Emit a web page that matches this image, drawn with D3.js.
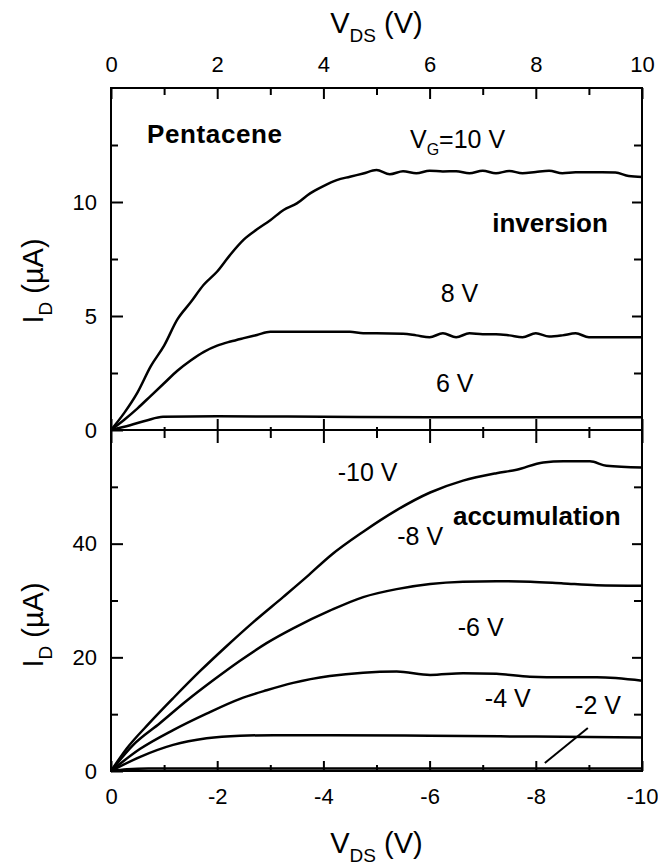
<!DOCTYPE html>
<html><head><meta charset="utf-8">
<script src="https://cdn.jsdelivr.net/npm/d3@7"></script>
<style>
body{margin:0;background:#fff;}
svg{display:block;}
text{font-family:"Liberation Sans",Arial,Helvetica,sans-serif;fill:#000;}
</style></head><body>
<svg id="c" width="658" height="866"></svg>
<script>
// ---- tick values ----
const topXTicks = [0, 2, 4, 6, 8, 10];
const topXMinor = [1, 3, 5, 7, 9];
const bottomXTicks = [0, -2, -4, -6, -8, -10];
const bottomXMinor = [-1, -3, -5, -7, -9];
const invYTicks = [0, 5, 10];
const invYMinor = [2.5, 7.5, 12.5];
const accYTicks = [0, 20, 40];
const accYMinor = [10, 30, 50];

// ---- inversion (top panel): [V_DS (V), I_D (uA)] ----
const inversionVG = ["10 V", "8 V", "6 V"];
const inv10 = [[0,0],[0.25,0.75],[0.5,1.65],[0.75,2.8],[1.0,3.7],[1.25,4.85],[1.5,5.6],[1.75,6.38],[2.0,6.95],[2.25,7.7],[2.5,8.35],[2.75,8.8],[3.0,9.2],[3.25,9.65],[3.5,9.94],[3.75,10.38],[4.0,10.7],[4.25,10.96],[4.5,11.11],[4.75,11.25],[5.0,11.4],[5.25,11.22],[5.5,11.35],[5.75,11.26],[6.0,11.37],[6.25,11.34],[6.5,11.35],[6.75,11.26],[7.0,11.37],[7.25,11.26],[7.5,11.36],[7.75,11.26],[8.0,11.32],[8.25,11.37],[8.5,11.26],[8.75,11.3],[9.0,11.3],[9.25,11.3],[9.5,11.29],[9.75,11.14],[10,11.1]];
const inv8 = [[0,0],[0.25,0.45],[0.5,0.95],[0.75,1.5],[1.0,2.05],[1.25,2.6],[1.5,3.05],[1.75,3.43],[2.0,3.7],[2.25,3.88],[2.5,4.03],[2.75,4.17],[3.0,4.31],[3.5,4.31],[4.0,4.31],[4.5,4.31],[4.75,4.24],[5.0,4.24],[5.5,4.22],[5.75,4.15],[6.0,4.07],[6.25,4.24],[6.5,4.07],[6.75,4.24],[7.0,4.2],[7.25,4.2],[7.5,4.15],[7.75,4.07],[8.0,4.24],[8.25,4.1],[8.5,4.15],[8.75,4.24],[9.0,4.07],[9.5,4.07],[10,4.07]];
const inv6 = [[0,0],[0.36,0.21],[0.67,0.42],[0.98,0.58],[2,0.6],[4,0.58],[6,0.56],[8,0.56],[10,0.56]];

// ---- accumulation (bottom panel): [V_DS (V), I_D (uA)] ----
const accumulationVG = ["-10 V", "-8 V", "-6 V", "-4 V", "-2 V"];
const acc10 = [[0,0],[-0.3,4.0],[-0.73,8.5],[-1.17,12.8],[-1.68,17.6],[-2.18,22.0],[-2.68,26.2],[-3.24,30.6],[-3.69,34.2],[-4.12,37.8],[-4.75,42.1],[-5.38,45.9],[-6.01,49.0],[-6.63,51.1],[-7.26,52.4],[-7.64,53.0],[-8.14,54.3],[-8.52,54.5],[-9.02,54.5],[-9.33,53.7],[-10,53.4]];
const acc8 = [[0,0],[-0.42,4.6],[-0.92,8.4],[-1.43,12.4],[-1.93,16.0],[-2.43,19.4],[-2.93,22.5],[-3.43,25.1],[-4.12,28.2],[-4.75,30.6],[-5.38,32.0],[-6.01,32.9],[-6.63,33.3],[-7.26,33.4],[-7.9,33.3],[-8.52,33.0],[-9.15,32.7],[-10,32.6]];
const acc6 = [[0,0],[-0.55,3.9],[-1.17,7.2],[-1.8,10.1],[-2.43,12.7],[-2.93,14.2],[-3.43,15.5],[-4.12,16.7],[-4.75,17.3],[-5.38,17.5],[-6.01,16.9],[-6.63,17.2],[-7.26,17.1],[-7.89,16.6],[-8.52,16.5],[-9.15,16.5],[-10,15.9]];
const acc4 = [[0,0],[-0.55,2.5],[-1.17,4.6],[-1.8,5.75],[-2.43,6.2],[-3.06,6.3],[-4.12,6.3],[-6,6.2],[-8,6.05],[-10,5.9]];
const acc2 = [[0,0],[-0.3,0.3],[-0.7,0.45],[-3,0.45],[-6,0.42],[-10,0.42]];

const svg = d3.select("#c");
const L = 111, R = 642, T = 88, MID = 430, B = 771;

const xTop = d3.scaleLinear().domain([0, 10]).range([L, R]);
const xBot = d3.scaleLinear().domain([0, -10]).range([L, R]);
const yTop = d3.scaleLinear().domain([0, 15]).range([MID, T]);
const yBot = d3.scaleLinear().domain([0, 60]).range([B, MID]);

const fmt = d => String(d);

function ticks(axis, transform, size) {
  const g = svg.append("g").attr("transform", transform).call(axis.tickSize(size).tickFormat(""));
  g.select(".domain").remove();
  g.selectAll(".tick line").attr("stroke", "#000").attr("stroke-width", 2);
}
function labels(axis, transform, pad) {
  const g = svg.append("g").attr("transform", transform).call(axis.tickSize(0).tickPadding(pad).tickFormat(fmt));
  g.select(".domain").remove();
  g.selectAll("text").attr("font-size", 22).attr("font-family", null);
}

// top frame: ticks down, labels above
ticks(d3.axisBottom(xTop).tickValues(topXTicks), `translate(0,${T})`, 11);
ticks(d3.axisBottom(xTop).tickValues(topXMinor), `translate(0,${T})`, 7);
labels(d3.axisTop(xTop).tickValues(topXTicks), `translate(0,${T})`, 16);
// divider
ticks(d3.axisTop(xTop).tickValues(topXTicks), `translate(0,${MID})`, 11);
ticks(d3.axisTop(xTop).tickValues(topXMinor), `translate(0,${MID})`, 3);
ticks(d3.axisBottom(xBot).tickValues(bottomXTicks), `translate(0,${MID})`, 13);
ticks(d3.axisBottom(xBot).tickValues(bottomXMinor), `translate(0,${MID})`, 8);
// bottom frame
ticks(d3.axisTop(xBot).tickValues(bottomXTicks), `translate(0,${B})`, 10);
ticks(d3.axisTop(xBot).tickValues(bottomXMinor), `translate(0,${B})`, 6);
labels(d3.axisBottom(xBot).tickValues(bottomXTicks), `translate(0,${B})`, 17);
// left axes
ticks(d3.axisRight(yTop).tickValues(invYTicks), `translate(${L},0)`, 12);
ticks(d3.axisRight(yTop).tickValues(invYMinor), `translate(${L},0)`, 7);
labels(d3.axisLeft(yTop).tickValues(invYTicks), `translate(${L},0)`, 14);
ticks(d3.axisRight(yBot).tickValues(accYTicks), `translate(${L},0)`, 12);
ticks(d3.axisRight(yBot).tickValues(accYMinor), `translate(${L},0)`, 7);
labels(d3.axisLeft(yBot).tickValues(accYTicks), `translate(${L},0)`, 14);
// right axes
ticks(d3.axisLeft(yTop).tickValues(invYTicks.slice(1)), `translate(${R},0)`, 10);
ticks(d3.axisLeft(yTop).tickValues(invYMinor), `translate(${R},0)`, 8);
ticks(d3.axisLeft(yBot).tickValues(accYTicks.slice(1)), `translate(${R},0)`, 10);
ticks(d3.axisLeft(yBot).tickValues(accYMinor), `translate(${R},0)`, 8);

// frame
svg.append("rect").attr("x", L).attr("y", T).attr("width", R - L).attr("height", B - T)
  .attr("fill", "none").attr("stroke", "#000").attr("stroke-width", 2);
svg.append("line").attr("x1", L).attr("x2", R).attr("y1", MID).attr("y2", MID)
  .attr("stroke", "#000").attr("stroke-width", 2);

// curves
const lineTop = d3.line().x(d => xTop(d[0])).y(d => yTop(d[1])).curve(d3.curveMonotoneX);
const lineBot = d3.line().x(d => xBot(d[0])).y(d => yBot(d[1])).curve(d3.curveMonotoneX);
[inv10, inv8, inv6].forEach(s => svg.append("path").attr("d", lineTop(s))
  .attr("fill", "none").attr("stroke", "#000").attr("stroke-width", 2.5).attr("stroke-linejoin", "round"));
[acc10, acc8, acc6, acc4, acc2].forEach(s => svg.append("path").attr("d", lineBot(s))
  .attr("fill", "none").attr("stroke", "#000").attr("stroke-width", 2.5).attr("stroke-linejoin", "round"));

// annotations
function txt(x, y, str, size, bold) {
  return svg.append("text").attr("x", x).attr("y", y).attr("font-size", size)
    .attr("font-weight", bold ? "bold" : null).text(str);
}
txt(xTop(0.68), yTop(12.6), "Pentacene", 26, true).attr("letter-spacing", 0.6);
const vg = svg.append("text").attr("x", xTop(5.63)).attr("y", yTop(12.37)).attr("font-size", 25);
vg.append("tspan").text("V");
vg.append("tspan").attr("font-size", 16).attr("dy", 7).text("G");
vg.append("tspan").attr("dy", -7).text("=" + inversionVG[0]);
txt(xTop(7.18), yTop(8.68), "inversion", 26, true);
txt(xTop(6.21), yTop(5.61), inversionVG[1], 25, false);
txt(xTop(6.12), yTop(1.67), inversionVG[2], 25, false);

txt(xBot(-4.27), yBot(51.0), accumulationVG[0], 25, false);
txt(xBot(-6.44), yBot(43.2), "accumulation", 26, true);
txt(xBot(-5.39), yBot(39.8), accumulationVG[1], 25, false);
txt(xBot(-6.53), yBot(23.8), accumulationVG[2], 25, false);
txt(xBot(-7.04), yBot(11.3), accumulationVG[3], 25, false);
txt(xBot(-8.74), yBot(10.0), accumulationVG[4], 25, false);
svg.append("line").attr("x1", xBot(-8.98)).attr("y1", yBot(7.57)).attr("x2", xBot(-8.17)).attr("y2", yBot(1.4))
  .attr("stroke", "#000").attr("stroke-width", 2);

// axis titles
function vdsTitle(y) {
  const t = svg.append("text").attr("x", (L + R) / 2).attr("y", y).attr("font-size", 29).attr("text-anchor", "middle");
  t.append("tspan").text("V");
  t.append("tspan").attr("font-size", 19).attr("dy", 9).text("DS");
  t.append("tspan").attr("dy", -9).text(" (V)");
}
vdsTitle(33);
vdsTitle(853);
function idTitle(cy) {
  const t = svg.append("text").attr("transform", `translate(43,${cy}) rotate(-90)`)
    .attr("font-size", 29).attr("text-anchor", "middle");
  t.append("tspan").text("I");
  t.append("tspan").attr("font-size", 19).attr("dy", 9).text("D");
  t.append("tspan").attr("dy", -9).text(" (\u00b5A)");
}
idTitle(281);
idTitle(625);
</script>
</body></html>
